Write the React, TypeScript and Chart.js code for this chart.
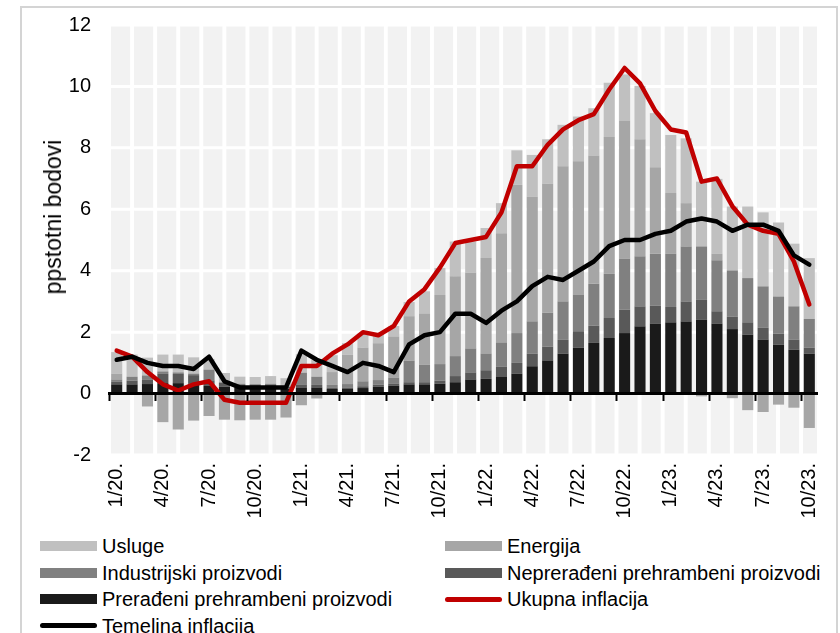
import React, { useEffect, useRef } from 'react';
import { Chart, registerables } from 'chart.js';

Chart.register(...registerables);

const MONTHS = [
  '1/20.', '2/20.', '3/20.', '4/20.', '5/20.', '6/20.', '7/20.', '8/20.', '9/20.', '10/20.', '11/20.', '12/20.',
  '1/21.', '2/21.', '3/21.', '4/21.', '5/21.', '6/21.', '7/21.', '8/21.', '9/21.', '10/21.', '11/21.', '12/21.',
  '1/22.', '2/22.', '3/22.', '4/22.', '5/22.', '6/22.', '7/22.', '8/22.', '9/22.', '10/22.', '11/22.', '12/22.',
  '1/23.', '2/23.', '3/23.', '4/23.', '5/23.', '6/23.', '7/23.', '8/23.', '9/23.', '10/23.',
];

const PRERADJENI = [
  0.30, 0.30, 0.31, 0.34, 0.34, 0.32, 0.25, 0.22, 0.19, 0.17, 0.16, 0.16,
  0.20, 0.20, 0.15, 0.15, 0.18, 0.22, 0.26, 0.30, 0.30, 0.32, 0.37, 0.46,
  0.48, 0.54, 0.65, 0.89, 1.08, 1.30, 1.49, 1.65, 1.81, 1.97, 2.19, 2.28,
  2.32, 2.35, 2.41, 2.28, 2.10, 1.92, 1.76, 1.59, 1.43, 1.30,
];
const NEPRERADJENI = [
  0.08, 0.12, 0.15, 0.30, 0.30, 0.28, 0.18, 0.13, 0.11, 0.12, 0.14, 0.06,
  0.08, 0.08, 0.05, 0.05, 0.06, 0.07, 0.07, 0.07, 0.07, 0.10, 0.20, 0.23,
  0.28, 0.33, 0.35, 0.41, 0.45, 0.45, 0.54, 0.56, 0.65, 0.76, 0.65, 0.58,
  0.50, 0.65, 0.64, 0.40, 0.40, 0.40, 0.38, 0.36, 0.33, 0.19,
];
const INDUSTRIJSKI = [
  0.08, 0.13, 0.13, 0.08, 0.05, 0.05, 0.35, 0.02, 0.02, 0.02, 0.02, 0.01,
  0.40, 0.27, 0.08, 0.11, 0.16, 0.15, 0.19, 0.70, 0.57, 0.54, 0.65, 0.78,
  0.54, 0.78, 0.97, 1.05, 1.10, 1.25, 1.19, 1.37, 1.44, 1.66, 1.63, 1.69,
  1.73, 1.79, 1.74, 1.66, 1.51, 1.44, 1.35, 1.21, 1.08, 0.94,
];
const ENERGIJA = [
  0.19, -0.03, -0.42, -0.93, -1.17, -0.88, -0.73, -0.85, -0.87, -0.85, -0.85, -0.78,
  -0.38, -0.16, 0.42, 0.95, 1.10, 1.20, 1.34, 1.45, 1.67, 2.25, 2.60, 2.47,
  3.11, 3.57, 4.83, 4.07, 4.20, 4.40, 4.34, 4.16, 4.45, 4.50, 3.81, 2.82,
  1.98, 1.41, -0.09, 0.21, -0.15, -0.54, -0.60, -0.36, -0.46, -1.12,
];
const USLUGE = [
  0.70, 0.72, 0.58, 0.55, 0.58, 0.53, 0.35, 0.30, 0.23, 0.23, 0.25, 0.27,
  0.60, 0.55, 0.55, 0.38, 0.45, 0.30, 0.34, 0.46, 0.72, 0.88, 1.13, 1.01,
  0.98, 0.98, 1.12, 1.35, 1.45, 1.35, 1.46, 1.55, 1.77, 1.50, 1.74, 1.76,
  1.89, 2.11, 2.11, 2.44, 2.08, 2.33, 2.41, 2.41, 2.04, 1.98,
];
const UKUPNA = [
  1.4, 1.2, 0.7, 0.3, 0.1, 0.3, 0.4, -0.2, -0.3, -0.3, -0.3, -0.3,
  0.9, 0.9, 1.3, 1.6, 2.0, 1.9, 2.2, 3.0, 3.4, 4.1, 4.9, 5.0,
  5.1, 5.9, 7.4, 7.4, 8.1, 8.6, 8.9, 9.1, 9.9, 10.6, 10.1, 9.2,
  8.6, 8.5, 6.9, 7.0, 6.1, 5.5, 5.3, 5.2, 4.3, 2.9,
];
const TEMELJNA = [
  1.1, 1.2, 1.0, 0.9, 0.9, 0.8, 1.2, 0.4, 0.2, 0.2, 0.2, 0.2,
  1.4, 1.1, 0.9, 0.7, 1.0, 0.9, 0.7, 1.6, 1.9, 2.0, 2.6, 2.6,
  2.3, 2.7, 3.0, 3.5, 3.8, 3.7, 4.0, 4.3, 4.8, 5.0, 5.0, 5.2,
  5.3, 5.6, 5.7, 5.6, 5.3, 5.5, 5.5, 5.3, 4.5, 4.2,
];

// decorative background columns of the plot area
const BG_COLUMN_CENTERS = [
  0.5, 1.5, 2.5, 3.5, 4.5, 5.5, 6.5, 7.5, 8.5, 9.5, 10.5, 11.5, 12.5, 13.5, 14.5, 15.5,
  16.5, 17.5, 18.5, 19.5, 20.5, 21.5, 22.5, 23.5, 24.5, 25.5, 26.5, 27.5, 28.5, 29.5, 30.5,
];
const BG_RANGE = [-2, 12];
const BG_MAX = 30.69;

const Y_MIN = -2;
const Y_MAX = 12;
const Y_STEP = 2;

const FONT = '"Liberation Sans", Arial, sans-serif';

const COLORS = {
  usluge: '#c0c0c0',
  energija: '#a6a6a6',
  industrijski: '#808080',
  nepreradjeni: '#595959',
  preradjeni: '#1a1a1a',
  ukupna: '#c00000',
  temeljna: '#000000',
};

const LEGEND = [
  { label: 'Usluge', color: COLORS.usluge, kind: 'bar', col: 0, row: 0 },
  { label: 'Energija', color: COLORS.energija, kind: 'bar', col: 1, row: 0 },
  { label: 'Industrijski proizvodi', color: COLORS.industrijski, kind: 'bar', col: 0, row: 1 },
  { label: 'Neprerađeni prehrambeni proizvodi', color: COLORS.nepreradjeni, kind: 'bar', col: 1, row: 1 },
  { label: 'Prerađeni prehrambeni proizvodi', color: COLORS.preradjeni, kind: 'bar', col: 0, row: 2 },
  { label: 'Ukupna inflacija', color: COLORS.ukupna, kind: 'line', col: 1, row: 2 },
  { label: 'Temeljna inflacija', color: COLORS.temeljna, kind: 'line', col: 0, row: 3 },
];

const whiteGridOverBg = {
  id: 'whiteGridOverBg',
  afterDatasetDraw(chart: any, args: any) {
    const ds = chart.data.datasets[args.index];
    if (!ds || ds.label !== '__bg') return;
    const { ctx, chartArea } = chart;
    const y = chart.scales.y;
    ctx.save();
    ctx.strokeStyle = '#ffffff';
    ctx.lineWidth = 3;
    y.ticks.forEach((t: any) => {
      if (t.value === 0) return;
      const py = y.getPixelForValue(t.value);
      ctx.beginPath();
      ctx.moveTo(chartArea.left, py);
      ctx.lineTo(chartArea.right, py);
      ctx.stroke();
    });
    ctx.restore();
  },
};

function ChartCanvas() {
  const ref = useRef<HTMLCanvasElement | null>(null);
  useEffect(() => {
    if (!ref.current) return;
    Chart.defaults.font.family = FONT;
    const barCommon = {
      type: 'bar' as const,
      stack: 's',
      order: 5,
      grouped: false,
      barPercentage: 0.72,
      categoryPercentage: 1,
      borderWidth: 0,
    };
    const chart = new Chart(ref.current, {
      data: {
        labels: MONTHS,
        datasets: [
          {
            type: 'bar',
            label: '__bg',
            data: BG_COLUMN_CENTERS.map((c) => ({ x: c, y: BG_RANGE })) as any,
            xAxisID: 'xBg',
            yAxisID: 'yBg',
            backgroundColor: '#f2f2f2',
            barThickness: 18.5,
            grouped: false,
            order: 10,
            borderWidth: 0,
          } as any,
          { ...barCommon, label: 'Prerađeni prehrambeni proizvodi', data: PRERADJENI, backgroundColor: COLORS.preradjeni },
          { ...barCommon, label: 'Neprerađeni prehrambeni proizvodi', data: NEPRERADJENI, backgroundColor: COLORS.nepreradjeni },
          { ...barCommon, label: 'Industrijski proizvodi', data: INDUSTRIJSKI, backgroundColor: COLORS.industrijski },
          { ...barCommon, label: 'Energija', data: ENERGIJA, backgroundColor: COLORS.energija },
          { ...barCommon, label: 'Usluge', data: USLUGE, backgroundColor: COLORS.usluge },
          {
            type: 'line',
            label: 'Ukupna inflacija',
            data: UKUPNA,
            borderColor: COLORS.ukupna,
            borderWidth: 4.5,
            pointRadius: 0,
            tension: 0,
            stack: 'ukupna',
            order: 2,
            borderJoinStyle: 'round',
            borderCapStyle: 'round',
          } as any,
          {
            type: 'line',
            label: 'Temeljna inflacija',
            data: TEMELJNA,
            borderColor: COLORS.temeljna,
            borderWidth: 4.5,
            pointRadius: 0,
            tension: 0,
            stack: 'temeljna',
            order: 1,
            borderJoinStyle: 'round',
            borderCapStyle: 'round',
          } as any,
        ],
      },
      options: {
        animation: false,
        responsive: false,
        maintainAspectRatio: false,
        layout: { autoPadding: false, padding: { left: 0, right: 23, top: 25, bottom: 0 } },
        plugins: { legend: { display: false }, tooltip: { enabled: false } },
        scales: {
          x: {
            type: 'category',
            offset: true,
            stacked: true,
            grid: { display: false, drawTicks: false },
            border: { display: false },
            ticks: {
              autoSkip: false,
              maxRotation: 90,
              minRotation: 90,
              padding: 8,
              color: '#000',
              font: { size: 20, family: FONT },
              callback: (_v: any, i: number) => (i % 3 === 0 ? MONTHS[i] : ''),
            },
            afterFit: (s: any) => {
              s.height = 75;
              s.paddingLeft = 0;
              s.paddingRight = 0;
            },
          },
          x2: {
            type: 'category',
            axis: 'x',
            labels: MONTHS,
            position: { y: 0 },
            offset: true,
            grid: {
              display: true,
              offset: true,
              drawOnChartArea: false,
              drawTicks: true,
              tickLength: 6,
              tickWidth: 2,
              tickColor: (ctx: any) => (ctx.index % 3 === 0 ? '#000' : 'rgba(0,0,0,0)'),
              z: 2,
            },
            border: { display: true, color: '#000', width: 3, z: 2 },
            ticks: { display: false, autoSkip: false },
          } as any,
          y: {
            type: 'linear',
            stacked: true,
            min: Y_MIN,
            max: Y_MAX,
            grid: { display: false, drawTicks: false },
            border: { display: false },
            ticks: {
              stepSize: Y_STEP,
              padding: 18,
              color: '#000',
              font: { size: 20, family: FONT },
            },
            afterFit: (s: any) => {
              s.width = 109;
              s.paddingTop = 0;
              s.paddingBottom = 0;
            },
          },
          xBg: {
            type: 'linear',
            display: false,
            min: 0,
            max: BG_MAX,
            offset: false,
          },
          yBg: {
            type: 'linear',
            display: false,
            min: Y_MIN,
            max: Y_MAX,
          },
        },
      },
      plugins: [whiteGridOverBg],
    } as any);
    return () => chart.destroy();
  }, []);
  return (
    <canvas
      ref={ref}
      width={840}
      height={530}
      style={{ position: 'absolute', left: 0, top: 0, width: 840, height: 530, display: 'block' }}
    />
  );
}

export default function App() {
  const rowTop = (r: number) => 546 + 26.5 * r;
  return (
    <div>
      <div
        style={{
          position: 'absolute',
          left: 20,
          top: 6,
          width: 818,
          height: 627,
          boxSizing: 'border-box',
          border: '2px solid #d4d4d4',
          borderBottom: 'none',
        }}
      />
      <ChartCanvas />
      <div
        style={{
          position: 'absolute',
          left: 53,
          top: 217,
          transform: 'translate(-50%, -50%) rotate(-90deg)',
          fontFamily: FONT,
          fontSize: 23,
          color: '#000',
          whiteSpace: 'nowrap',
          lineHeight: '24px',
        }}
      >
        ppstotni bodovi
      </div>
      {LEGEND.map((item) => {
        const swLeft = item.col === 0 ? 40 : 445;
        const txtLeft = item.col === 0 ? 102 : 507;
        const cy = rowTop(item.row);
        const isLine = item.kind === 'line';
        return (
          <React.Fragment key={item.label}>
            <div
              style={{
                position: 'absolute',
                left: swLeft,
                top: cy - (isLine ? 2.5 : 5),
                width: 57,
                height: isLine ? 5 : 10,
                background: item.color,
                borderRadius: isLine ? 3 : 0,
              }}
            />
            <div
              style={{
                position: 'absolute',
                left: txtLeft,
                top: cy - 12,
                height: 24,
                lineHeight: '24px',
                fontFamily: FONT,
                fontSize: 20,
                color: '#000',
                whiteSpace: 'nowrap',
              }}
            >
              {item.label}
            </div>
          </React.Fragment>
        );
      })}
    </div>
  );
}
